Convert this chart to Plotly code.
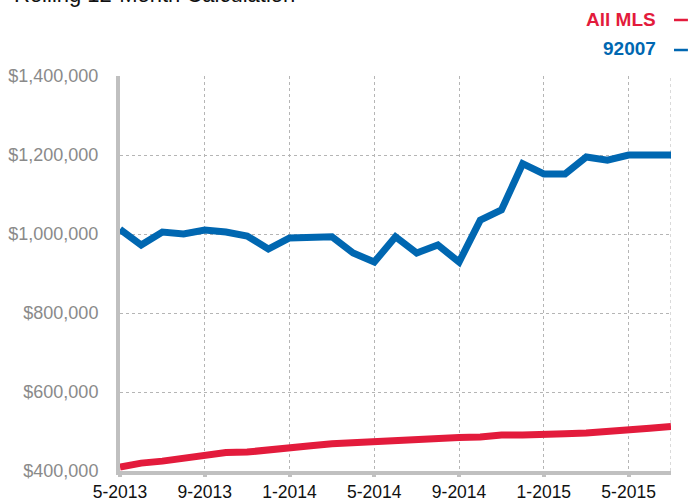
import plotly.graph_objects as go

months = ["5-2013", "6-2013", "7-2013", "8-2013", "9-2013", "10-2013", "11-2013", "12-2013",
          "1-2014", "2-2014", "3-2014", "4-2014", "5-2014", "6-2014", "7-2014", "8-2014",
          "9-2014", "10-2014", "11-2014", "12-2014", "1-2015", "2-2015", "3-2015", "4-2015",
          "5-2015", "6-2015", "7-2015"]
all_mls = [410000, 420000, 425000, 433000, 438000, 447000, 448000, 452000,
           457000, 464000, 469000, 472000, 476000, 480000, 481000, 484000,
           485000, 486000, 491000, 491000, 491000, 494000, 496000, 499000,
           503000, 508000, 513000]
zip_92007 = [1012000, 972000, 1005000, 1000000, 1010000, 1005000, 995000, 962000,
             990000, 993000, 993000, 952000, 929000, 993000, 952000, 972000,
             929000, 1035000, 1061000, 1178000, 1152000, 1152000, 1195000, 1187000,
             1200000, 1200000, 1200000]
y_ticks = [400000, 600000, 800000, 1000000, 1200000, 1400000]
y_tick_labels = ["$400,000", "$600,000", "$800,000", "$1,000,000", "$1,200,000", "$1,400,000"]
x_tick_labels = ["5-2013", "9-2013", "1-2014", "5-2014", "9-2014", "1-2015", "5-2015"]

RED = "#e31b3c"
BLUE = "#0067b1"
GRID = "#b5b5b5"
AXIS = "#c0c0c0"
FONT = "Liberation Sans, Arial, Helvetica, sans-serif"

x = list(range(len(months)))
x_tick_vals = [months.index(m) for m in x_tick_labels]

fig = go.Figure()
fig.add_trace(go.Scatter(x=x, y=all_mls, mode="lines", name="All MLS",
                         line=dict(color=RED, width=7), showlegend=False))
fig.add_trace(go.Scatter(x=x, y=zip_92007, mode="lines", name="92007",
                         line=dict(color=BLUE, width=7), showlegend=False))

fig.update_layout(
    width=691, height=501,
    margin=dict(l=120, r=20, t=76, b=30),
    paper_bgcolor="white", plot_bgcolor="white",
    font=dict(family=FONT, size=16),
    xaxis=dict(
        range=[0, len(months) - 1],
        tickmode="array", tickvals=x_tick_vals, ticktext=x_tick_labels,
        showgrid=True, gridcolor=GRID, griddash="dot", gridwidth=1,
        showline=True, linecolor=AXIS, linewidth=4,
        ticks="outside", ticklen=2, tickwidth=4, tickcolor=AXIS,
        tickfont=dict(color="#111111", size=17.5, family=FONT),
        zeroline=False, automargin=False,
    ),
    yaxis=dict(
        range=[400000, 1400000],
        tickmode="array", tickvals=y_ticks, ticktext=y_tick_labels,
        showgrid=True, gridcolor=GRID, griddash="dot", gridwidth=1,
        showline=True, linecolor=AXIS, linewidth=4,
        ticks="", ticklabelstandoff=14,
        tickfont=dict(color="#8a8a8a", size=18, family=FONT),
        zeroline=False, automargin=False,
    ),
)

# right-edge dotted gridline
fig.add_shape(type="line", xref="x", yref="paper", x0=len(months) - 1, x1=len(months) - 1,
              y0=0, y1=1, line=dict(color=GRID, width=1, dash="dot"), layer="below")

# title (cut off at top of the picture)
fig.add_annotation(text="Rolling 12-Month Calculation", xref="paper", yref="paper",
                   x=-0.195, y=1.206, xanchor="left", yanchor="middle", borderpad=0,
                   showarrow=False, font=dict(family=FONT, size=22, color="#111111"))

# legend labels
fig.add_annotation(text="<b>All MLS</b>", xref="paper", yref="paper", x=0.9747, y=1.143,
                   xanchor="right", yanchor="middle", borderpad=0,
                   showarrow=False, font=dict(family=FONT, size=19, color=RED))
fig.add_annotation(text="<b>92007</b>", xref="paper", yref="paper", x=0.9747, y=1.0696,
                   xanchor="right", yanchor="middle", borderpad=0,
                   showarrow=False, font=dict(family=FONT, size=19, color=BLUE))
for color, yy in [(RED, 1.1418), (BLUE, 1.0658)]:
    fig.add_shape(type="line", xref="paper", yref="paper", x0=1.0054, x1=1.0307,
                  y0=yy, y1=yy, line=dict(color=color, width=2.5))

fig.write_html("out.html", config={"displayModeBar": False},
               post_script="document.body.style.margin='0';")
